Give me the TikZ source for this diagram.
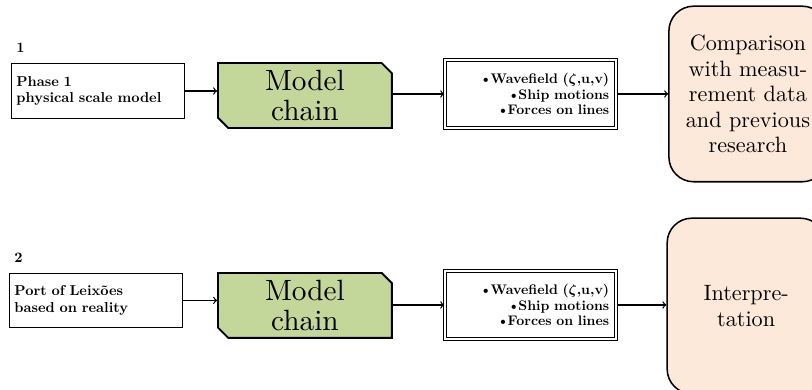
\documentclass[tikz,border=0pt]{standalone}
\usepackage{fontspec}
\usepackage{amsmath}
\setmainfont{lmroman10}[Extension=.otf,UprightFont=*-regular,BoldFont=*-bold,
  ItalicFont=*-italic,BoldItalicFont=*-bolditalic]
\usetikzlibrary{shapes.misc,positioning}
\definecolor{chaingreen}{RGB}{196,215,155}
\definecolor{outpeach}{RGB}{253,233,217}
\newcommand{\itm}{\textbullet\kern-1pt}
\begin{document}
\begin{tikzpicture}[
  input/.style={draw,thin,minimum width=3.92cm,minimum height=1.24cm,
    text width=3.7cm,align=left,font=\fontsize{9.3}{10.8}\selectfont\bfseries},
  tag/.style={font=\fontsize{9.3}{10.8}\selectfont\bfseries},
  chain/.style={draw,line width=1.2pt,fill=chaingreen,chamfered rectangle,
    chamfered rectangle corners={north east,south west},
    chamfered rectangle xsep=3.3pt,chamfered rectangle ysep=3.3pt,
    inner ysep=1pt,minimum width=3.96cm,minimum height=1.48cm,align=center,
    font=\fontsize{19}{19.4}\selectfont},
  result/.style={draw,double,line width=0.6pt,double distance=1.2pt,
    inner xsep=4.5pt,text width=3.59cm,minimum height=1.56cm,align=right,
    font=\fontsize{9}{10.2}\selectfont\bfseries},
  outcome/.style={draw,line width=1pt,fill=outpeach,rounded corners=16pt,
    minimum width=3.6cm,minimum height=4cm,text width=3.2cm,align=center,
    font=\fontsize{14.4}{16.5}\selectfont},
  link/.style={thick,->}]
\useasboundingbox (0,0) rectangle (18.5,8.884);

% first row
\node[input,anchor=west] (in1) at (0.25,6.811) {Phase 1\\physical scale model};
\node[tag,anchor=south west] (n1) at ([yshift=3.5pt]in1.north west) {1};
\node[chain] (mc1) at (6.948,6.708) {Model\\chain};
\node[result] (res1) at (12.084,6.743) {\itm Wavefield ($\boldsymbol{\zeta}$,u,v)\\
  \itm Ship motions\\\itm Forces on lines};
\node[outcome] (cmp) at (17.04,6.743) {Comparison\\with measu-\\rement data\\and previous\\research};

% second row
\node[input,anchor=west] (in2) at (0.205,2.039) {Port of Leixões\\based on reality};
\node[tag,anchor=south west] (n2) at ([yshift=3.5pt]in2.north west) {2};
\node[chain] (mc2) at (6.948,1.925) {Model\\chain};
\node[result] (res2) at (12.084,1.936) {\itm Wavefield ($\boldsymbol{\zeta}$,u,v)\\
  \itm Ship motions\\\itm Forces on lines};
\node[outcome] (intp) at (17.0,1.913) {Interpre-\\tation};

\draw[link] (in1) -- (in1 -| mc1.west);
\draw[link] (mc1.east |- res1) -- (res1.west);
\draw[link] (res1) -- (res1 -| cmp.west);
\draw[link] (in2) -- (in2 -| mc2.west);
\draw[link] (mc2.east |- res2) -- (res2.west);
\draw[link] (res2) -- (res2 -| intp.west);
\end{tikzpicture}
\end{document}
